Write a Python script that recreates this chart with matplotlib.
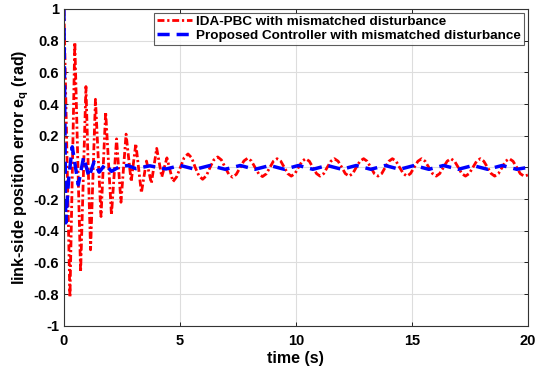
import matplotlib
matplotlib.use('Agg')
import matplotlib.pyplot as plt

plt.rcParams['font.family'] = 'Liberation Sans'
plt.rcParams['font.weight'] = 'bold'
plt.rcParams['mathtext.fontset'] = 'custom'
plt.rcParams['mathtext.bf'] = 'Liberation Sans:bold'
plt.rcParams['mathtext.rm'] = 'Liberation Sans:bold'

# IDA-PBC (red), values
red_t = [0.00, 0.26, 0.47, 0.72, 0.95, 1.15, 1.36, 1.60, 1.80, 2.05,
         2.27, 2.46, 2.68, 2.90, 3.10, 3.34, 3.56, 3.77, 4.00, 4.22,
         4.44, 4.70, 4.86, 5.02, 5.18, 5.35, 5.51, 5.66, 5.82, 5.98,
         6.14, 6.30, 6.46, 6.63, 6.79, 6.95, 7.11, 7.27, 7.43, 7.60,
         7.76, 7.92, 8.08, 8.24, 8.40, 8.56, 8.72, 8.88, 9.03, 9.19,
         9.35, 9.50, 9.65, 9.80, 9.96, 10.11, 10.27, 10.42, 10.58, 10.73,
         10.89, 11.04, 11.20, 11.35, 11.51, 11.66, 11.82, 11.98, 12.13, 12.29,
         12.45, 12.60, 12.76, 12.92, 13.07, 13.23, 13.38, 13.54, 13.70, 13.85,
         14.01, 14.16, 14.32, 14.47, 14.63, 14.79, 14.94, 15.10, 15.26, 15.42,
         15.57, 15.73, 15.89, 16.05, 16.20, 16.36, 16.52, 16.68, 16.84, 17.00,
         17.15, 17.31, 17.47, 17.63, 17.79, 17.95, 18.10, 18.26, 18.42, 18.57,
         18.73, 18.89, 19.04, 19.20, 19.36, 19.52, 19.67, 19.83, 20.00]
red_v = [1.00, -0.82, 0.79, -0.66, 0.51, -0.52, 0.43, -0.31, 0.35, -0.30,
         0.18, -0.22, 0.21, -0.09, 0.15, -0.16, 0.04, -0.10, 0.12, -0.06,
         0.06, -0.09, -0.06, 0.00, 0.06, 0.085, 0.06, 0.00, -0.053, -0.075,
         -0.053, 0.00, 0.047, 0.066, 0.047, 0.00, -0.044, -0.062, -0.044, 0.00,
         0.041, 0.058, 0.041, 0.00, -0.041, -0.058, -0.041, 0.00, 0.039, 0.055,
         0.039, 0.00, -0.039, -0.055, -0.039, 0.00, 0.039, 0.055, 0.039, 0.00,
         -0.039, -0.055, -0.039, 0.00, 0.039, 0.055, 0.039, 0.00, -0.039, -0.055,
         -0.039, 0.00, 0.039, 0.055, 0.039, 0.00, -0.039, -0.055, -0.039, 0.00,
         0.039, 0.055, 0.039, 0.00, -0.039, -0.055, -0.039, 0.00, 0.039, 0.055,
         0.039, 0.00, -0.039, -0.055, -0.039, 0.00, 0.039, 0.055, 0.039, 0.00,
         -0.039, -0.055, -0.039, 0.00, 0.039, 0.055, 0.039, 0.00, -0.039, -0.055,
         -0.039, 0.00, 0.039, 0.055, 0.039, 0.00, -0.039, -0.055, -0.048]

# Proposed controller (blue)
blue_t = [0.00, 0.08, 0.20, 0.36, 0.48, 0.62, 0.85, 1.08, 1.30, 1.52,
          1.78, 2.05, 2.40, 2.75, 3.10, 3.70, 4.40, 5.02, 5.66, 6.30,
          6.95, 7.60, 8.24, 8.88, 9.50, 10.11, 10.73, 11.35, 11.98, 12.60,
          13.23, 13.85, 14.47, 15.10, 15.73, 16.36, 17.00, 17.63, 18.26, 18.89,
          19.52, 20.00]
blue_v = [1.00, -0.35, -0.08, 0.13, 0.02, -0.11, 0.065, -0.06, 0.035, -0.03,
          0.02, -0.025, 0.005, 0.012, -0.008, 0.01, -0.01, 0.012, -0.012, 0.012,
          -0.012, 0.012, -0.012, 0.012, -0.012, 0.012, -0.012, 0.012, -0.012, 0.012,
          -0.012, 0.012, -0.012, 0.012, -0.012, 0.012, -0.012, 0.012, -0.012, 0.012,
          -0.012, 0.0]

x_ticks = [0, 5, 10, 15, 20]
y_ticks = [-1, -0.8, -0.6, -0.4, -0.2, 0, 0.2, 0.4, 0.6, 0.8, 1]
y_labels = ['-1', '-0.8', '-0.6', '-0.4', '-0.2', '0', '0.2', '0.4', '0.6', '0.8', '1']

fig = plt.figure(figsize=(5.37, 3.72), dpi=100)
ax = fig.add_axes([0.119, 0.124, 0.864, 0.852])

ax.plot(red_t, red_v, color='red', linestyle='-.', linewidth=2,
        dashes=(2.5, 1, 0.8, 1), label='IDA-PBC with mismatched disturbance')
ax.plot(blue_t, blue_v, color='blue', linestyle='--', linewidth=2.5,
        dashes=(3.5, 2), label='Proposed Controller with mismatched disturbance')

ax.set_xlim(0, 20)
ax.set_ylim(-1, 1)
ax.set_xticks(x_ticks)
ax.set_yticks(y_ticks)
ax.set_yticklabels(y_labels)
ax.tick_params(direction='in', top=True, right=True, labelsize=10.5, length=3, width=0.6)
ax.tick_params(axis='x', pad=6)
for s in ax.spines.values():
    s.set_linewidth(0.8)
    s.set_color('#333333')
ax.grid(True, color='#dddddd', linewidth=0.8)
ax.set_axisbelow(True)

ax.set_xlabel('time (s)', fontsize=11.5, fontweight='bold', labelpad=2)
ax.set_ylabel(r'link-side position error e$_{\mathbf{q}}$ (rad)', fontsize=11.5,
              fontweight='bold', labelpad=2)

leg = ax.legend(loc='upper right', fontsize=9.7, frameon=True, fancybox=False,
                borderaxespad=0.3, handlelength=2.6, borderpad=0.2,
                labelspacing=0.1, handletextpad=0.3)
leg.get_frame().set_edgecolor('#333333')
leg.get_frame().set_linewidth(0.8)

fig.savefig('out.png', dpi=100)
